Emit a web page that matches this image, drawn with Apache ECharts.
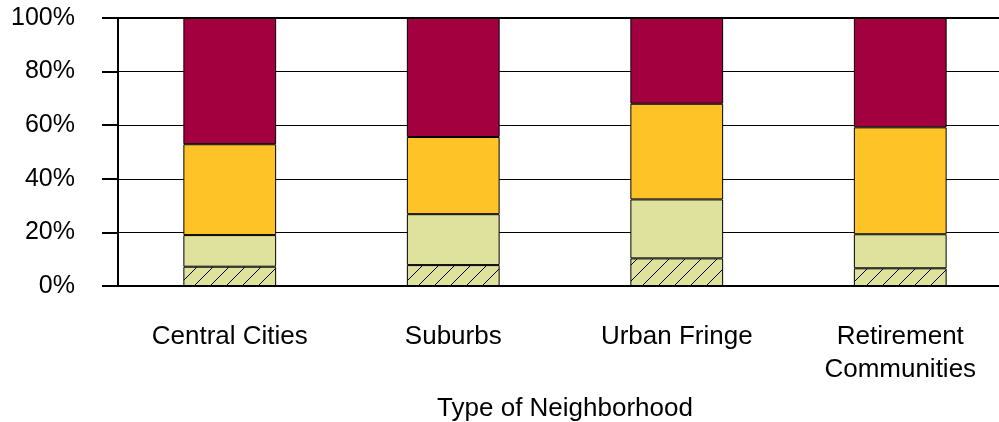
<!DOCTYPE html>
<html>
<head>
<meta charset="utf-8">
<script src="https://cdn.jsdelivr.net/npm/echarts@6/dist/echarts.min.js"></script>
<style>
html,body{margin:0;padding:0;background:#fff;overflow:hidden;width:999px;height:422px;}
#chart{width:1013px;height:422px;}
</style>
</head>
<body>
<div id="chart"></div>
<script>
var categories = ['Central Cities', 'Suburbs', 'Urban Fringe', 'Retirement\nCommunities'];
var yTickLabels = ['0%', '20%', '40%', '60%', '80%', '100%'];
var seriesNames = ['Segment A (hatched)', 'Segment B', 'Segment C', 'Segment D'];
var segA = [7.2, 7.8, 10.3, 6.6];
var segB = [11.8, 19.0, 22.0, 12.7];
var segC = [33.9, 28.8, 35.7, 39.9];
var segD = [47.1, 44.4, 32.0, 40.8];

var hatchCanvas = document.createElement('canvas');
hatchCanvas.width = 16; hatchCanvas.height = 16;
var hc = hatchCanvas.getContext('2d');
hc.fillStyle = '#DFE29C';
hc.fillRect(0, 0, 16, 16);
hc.strokeStyle = '#000';
hc.lineWidth = 1;
hc.beginPath();
hc.moveTo(-16, 16); hc.lineTo(16, -16);
hc.moveTo(0, 16); hc.lineTo(16, 0);
hc.moveTo(0, 32); hc.lineTo(32, 0);
hc.stroke();

var colors = [{image: hatchCanvas, repeat: 'repeat'}, '#DFE29C', '#FEC427', '#A30040'];
var values = [segA, segB, segC, segD];

var chart = echarts.init(document.getElementById('chart'), null, {renderer: 'canvas', width: 1013, height: 422});
var font = 'Liberation Sans, Arial, sans-serif';
chart.setOption({
  animation: false,
  grid: {left: 118, right: 1, top: 18, bottom: 136, show: true, borderColor: '#000', borderWidth: 2,
    backgroundColor: 'transparent', outerBoundsMode: 'none', containLabel: false},
  xAxis: {
    type: 'category',
    data: categories,
    name: 'Type of Neighborhood',
    nameLocation: 'middle',
    nameGap: 110,
    nameTextStyle: {fontFamily: font, fontSize: 26, color: '#000'},
    axisLine: {lineStyle: {color: '#000', width: 2}},
    axisTick: {show: false},
    axisLabel: {fontFamily: font, fontSize: 26, color: '#000', margin: 34, lineHeight: 33, interval: 0}
  },
  yAxis: {
    type: 'value',
    min: 0, max: 100, interval: 20,
    axisLine: {show: true, lineStyle: {color: '#000', width: 2}},
    axisTick: {show: true, length: 16, lineStyle: {color: '#000', width: 2}},
    splitLine: {show: true, lineStyle: {color: '#000', width: 1}},
    axisLabel: {fontFamily: font, fontSize: 25, color: '#000', margin: 43, padding: [8, 0, 0, 0],
      formatter: function (v) { return yTickLabels[Math.round(v / 20)]; }}
  },
  series: values.map(function (arr, i) {
    return {
      name: seriesNames[i],
      type: 'bar',
      stack: 'total',
      barWidth: '41.5%',
      data: arr,
      itemStyle: {color: colors[i], borderColor: '#000', borderWidth: 1}
    };
  })
});
</script>
</body>
</html>
